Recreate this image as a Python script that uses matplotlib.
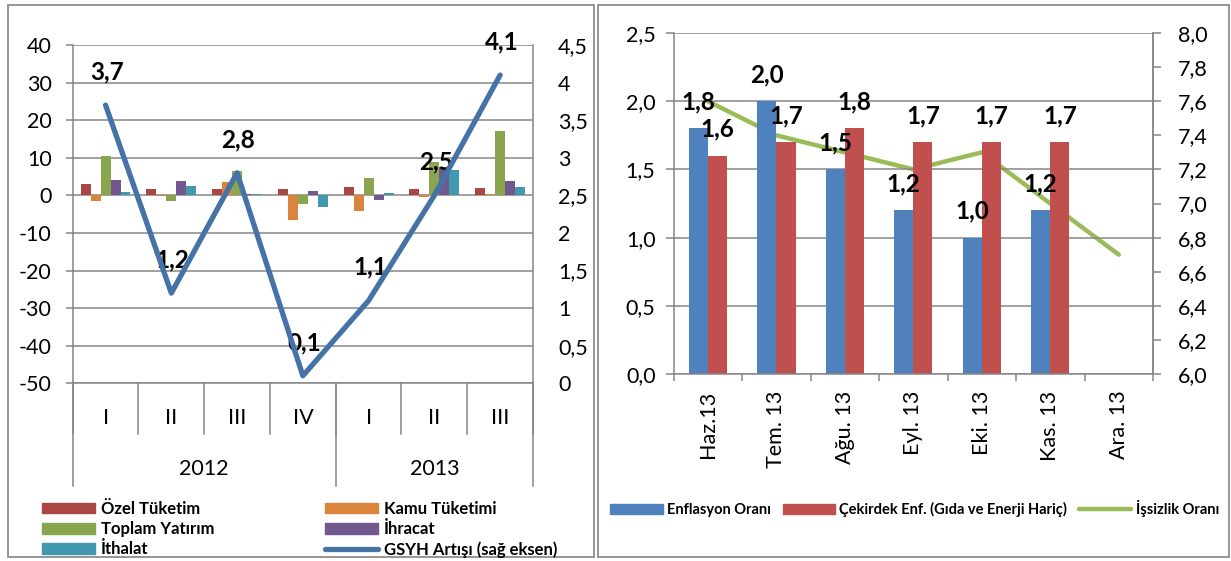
import matplotlib
matplotlib.use("Agg")
import matplotlib.pyplot as plt
from matplotlib.patches import Rectangle, Patch
from matplotlib.lines import Line2D
import numpy as np

plt.rcParams['font.family'] = ['Lato', 'DejaVu Sans']

# ---------------- data ----------------
quarters = ["I", "II", "III", "IV", "I", "II", "III"]
years = ["2012", "2013"]
ozel = [2.9, 1.8, 1.7, 1.7, 2.2, 1.7, 1.9]
kamu = [-1.4, -0.1, 3.5, -6.5, -4.2, -0.4, 0.4]
toplam = [10.6, -1.6, 6.6, -2.3, 4.6, 9.0, 17.0]
ihracat = [4.1, 3.8, 0.4, 1.1, -1.3, 7.5, 3.8]
ithalat = [0.8, 2.5, 0.4, -3.1, 0.6, 6.8, 2.3]
gsyh = [3.7, 1.2, 2.8, 0.1, 1.1, 2.5, 4.1]

months = ["Haz.13", "Tem. 13", "Ağu. 13", "Eyl. 13", "Eki. 13", "Kas. 13", "Ara. 13"]
enflasyon = [1.8, 2.0, 1.5, 1.2, 1.0, 1.2, np.nan]
cekirdek = [1.6, 1.7, 1.8, 1.7, 1.7, 1.7, np.nan]
issizlik = [7.6, 7.4, 7.3, 7.2, 7.3, 7.0, 6.7]

left_names = ["Özel Tüketim", "Kamu Tüketimi", "Toplam Yatırım", "İhracat", "İthalat"]
line_name = "GSYH Artışı (sağ eksen)"
right_names = ["Enflasyon Oranı", "Çekirdek Enf. (Gıda ve Enerji Hariç)", "İşsizlik Oranı"]

# ---------------- style ----------------
left_colors = ["#AA4643", "#DB843D", "#89A54E", "#71588F", "#4198AF"]
line_color = "#4572A7"
c_blue, c_red, c_green = "#4F81BD", "#C0504D", "#9BBB59"
gray = "#868686"
TICK = 15.5
LBL = 17.5

W, H = 1231, 561
fig = plt.figure(figsize=(W / 100, H / 100), dpi=100)

def fx(px):
    return px / W

def fy(py):
    return 1 - py / H

def dec(v, nd=1):
    return f"{v:.{nd}f}".replace(".", ",")

def gen(v):
    s = f"{v:g}"
    return s.replace(".", ",")

# panel borders
for (x0, x1) in [(8, 594), (598, 1229)]:
    fig.add_artist(Rectangle((fx(x0), fy(557)), fx(x1) - fx(x0), fy(5) - fy(557),
                             transform=fig.transFigure, fill=False, ec="#8c8c8c", lw=1.3))

# ================= LEFT CHART =================
ax1 = fig.add_axes([fx(72.7), fy(383.3), fx(533) - fx(72.7), fy(45) - fy(383.3)])
x = np.arange(len(quarters))
series = [ozel, kamu, toplam, ihracat, ithalat]
bw = 0.1515
for i, (vals, col) in enumerate(zip(series, left_colors)):
    ax1.bar(x + (i - 2) * bw, vals, width=bw, color=col, zorder=2)
ax1.set_xlim(-0.5, len(quarters) - 0.5)
ax1.set_ylim(-50, 40)
ax1.set_yticks(np.arange(-50, 41, 10))
ax1.set_yticklabels([f"{int(v)}" for v in np.arange(-50, 41, 10)])
ax1.yaxis.grid(True, color=gray, lw=1.1)
ax1.set_axisbelow(True)
ax1.set_xticks([])
ax1.tick_params(axis="y", length=5, width=1.1, color=gray, labelsize=TICK, pad=10)
for s in ["left", "right", "bottom"]:
    ax1.spines[s].set_color(gray)
    ax1.spines[s].set_linewidth(1.1)
ax1.spines["top"].set_visible(False)

tr = ax1.get_xaxis_transform()
for b in np.arange(-0.5, len(quarters), 1.0):
    ax1.plot([b, b], [0, -0.151], transform=tr, color=gray, lw=1.1, clip_on=False)
for b in [-0.5, 3.5, 6.5]:
    ax1.plot([b, b], [0, -0.305], transform=tr, color=gray, lw=1.1, clip_on=False)
for xi, q in zip(x, quarters):
    ax1.text(xi, -0.1036, q, transform=tr, ha="center", va="center", fontsize=TICK)
ax1.text(1.5, -0.2544, years[0], transform=tr, ha="center", va="center", fontsize=TICK)
ax1.text(5.0, -0.2544, years[1], transform=tr, ha="center", va="center", fontsize=TICK)

ax2 = ax1.twinx()
ax2.plot(x, gsyh, color=line_color, lw=3.8, solid_capstyle="round", zorder=5)
ax2.set_ylim(0, 4.5)
ax2.set_yticks(np.arange(0, 4.51, 0.5))
ax2.set_yticklabels([gen(v) for v in np.arange(0, 4.51, 0.5)])
ax2.tick_params(axis="y", length=0, labelsize=TICK, pad=18)
for s in ["left", "right", "bottom", "top"]:
    ax2.spines[s].set_visible(False)
for xi, v in zip(x, gsyh):
    ax2.annotate(dec(v), (xi, v), xytext=(1, 24), textcoords="offset points",
                 ha="center", va="center", fontsize=LBL, fontweight="bold")

# legend (left)
h_left = [Patch(color=c) for c in left_colors] + \
         [Line2D([], [], color=line_color, lw=3.8, solid_capstyle="round")]
l_left = left_names + [line_name]
order = [0, 2, 4, 1, 3, 5]
fig.legend([h_left[i] for i in order], [l_left[i] for i in order],
           loc="upper left", bbox_to_anchor=(fx(42), fy(501)), ncol=2, frameon=False,
           prop={"weight": "bold", "size": 12}, handlelength=3.2, handleheight=0.6,
           handletextpad=0.35, columnspacing=6.6, borderpad=0, borderaxespad=0,
           labelspacing=0.25)

# ================= RIGHT CHART =================
ax3 = fig.add_axes([fx(673.6), fy(374), fx(1153) - fx(673.6), fy(33) - fy(374)])
xm = np.arange(len(months))
bw2 = 0.28
ax3.bar(xm - bw2 / 2, enflasyon, width=bw2, color=c_blue, zorder=2)
ax3.bar(xm + bw2 / 2, cekirdek, width=bw2, color=c_red, zorder=2)
ax3.set_xlim(-0.5, len(months) - 0.5)
ax3.set_ylim(0, 2.5)
ax3.set_yticks(np.arange(0, 2.51, 0.5))
ax3.set_yticklabels([dec(v) for v in np.arange(0, 2.51, 0.5)])
ax3.yaxis.grid(True, color=gray, lw=1.1)
ax3.set_axisbelow(True)
ax3.set_xticks(xm)
ax3.set_xticklabels(months, rotation=90, fontsize=TICK)
ax3.set_xticks(np.arange(-0.5, len(months), 1.0), minor=True)
ax3.tick_params(axis="x", which="major", length=0, pad=12)
ax3.tick_params(axis="x", which="minor", length=5, width=1.1, color=gray)
ax3.tick_params(axis="y", length=6, width=1.1, color=gray, labelsize=TICK, pad=7)
for s in ["left", "right", "bottom"]:
    ax3.spines[s].set_color(gray)
    ax3.spines[s].set_linewidth(1.1)
ax3.spines["top"].set_visible(False)
for xi, v in zip(xm, enflasyon):
    if not np.isnan(v):
        ax3.annotate(dec(v), (xi - bw2 / 2, v), xytext=(0, 19), textcoords="offset points",
                     ha="center", va="center", fontsize=LBL, fontweight="bold", zorder=6)
for xi, v in zip(xm, cekirdek):
    if not np.isnan(v):
        ax3.annotate(dec(v), (xi + bw2 / 2, v), xytext=(0, 19), textcoords="offset points",
                     ha="center", va="center", fontsize=LBL, fontweight="bold", zorder=6)

ax4 = ax3.twinx()
ax4.plot(xm, issizlik, color=c_green, lw=3.2, solid_capstyle="round", zorder=3)
ax4.set_ylim(6.0, 8.0)
ax4.set_yticks(np.arange(6.0, 8.01, 0.2))
ax4.set_yticklabels([dec(v) for v in np.arange(6.0, 8.01, 0.2)])
ax4.tick_params(axis="y", length=6, width=1.1, color=gray, labelsize=TICK, pad=12)
for s in ["left", "bottom", "top"]:
    ax4.spines[s].set_visible(False)
ax4.spines["right"].set_color(gray)
ax4.spines["right"].set_linewidth(1.1)
ax3.set_zorder(ax4.get_zorder() + 1)
ax3.patch.set_visible(False)

h_right = [Patch(color=c_blue), Patch(color=c_red),
           Line2D([], [], color=c_green, lw=3.2, solid_capstyle="round")]
fig.legend(h_right, right_names, loc="upper left", bbox_to_anchor=(fx(610), fy(500)),
           ncol=3, frameon=False, prop={"weight": "bold", "size": 10.5},
           handlelength=3.6, handleheight=0.6, handletextpad=0.3, columnspacing=0.8,
           borderpad=0, borderaxespad=0)

fig.savefig("out.png", dpi=100, facecolor="white")
